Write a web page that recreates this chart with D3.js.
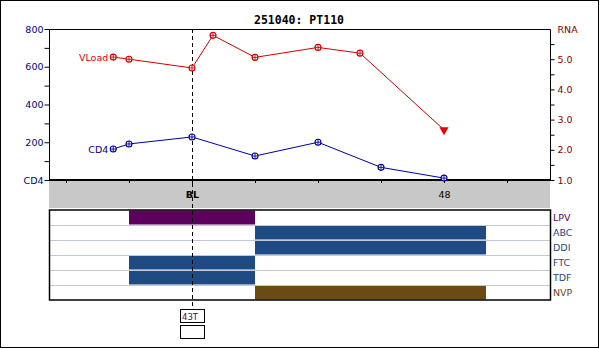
<!DOCTYPE html>
<html>
<head>
<meta charset="utf-8">
<script src="https://cdn.jsdelivr.net/npm/d3@7"></script>
<style>
  body { margin: 0; background: #fff; }
  svg { display: block; font-family: "DejaVu Sans", sans-serif; }
</style>
</head>
<body>
<div id="chart_div"></div>
<script>
// chart values
var title = "251040: PT110";

var vlWeeks = [-15, -12, 0, 4, 12, 24, 32, 48];
var vlValues = [5.07, 5.0, 4.71, 5.79, 5.06, 5.39, 5.2, 2.66];
var vlBelowLimit = [false, false, false, false, false, false, false, true];

var cd4Weeks = [-15, -12, 0, 12, 24, 36, 48];
var cd4Values = [164, 191, 228, 127, 200, 67, 10];

var drugNames = ["LPV", "ABC", "DDI", "FTC", "TDF", "NVP"];
var drugStart = [-12, 12, 12, -12, -12, 12];
var drugEnd = [12, 56, 56, 12, 12, 56];
var drugColors = ["#5e005e", "#1f4b85", "#1f4b85", "#1f4b85", "#1f4b85", "#6b4a14"];
var drugLabelColors = ["#5e005e", "#1f4b85", "#1f4b85", "#1f4b85", "#1f4b85", "#6b4a14"];

var weekTicks = [-24, -12, 0, 12, 24, 36, 48, 60];
var weekLabels = {0: "BL", 48: "48"};

var cd4Ticks = [0, 100, 200, 300, 400, 500, 600, 700, 800];
var cd4Labels = {0: "CD4", 200: "200", 400: "400", 600: "600", 800: "800"};
var rnaTicks = [1, 1.5, 2, 2.5, 3, 3.5, 4, 4.5, 5, 5.5, 6];
var rnaLabels = {1: "1.0", 2: "2.0", 3: "3.0", 4: "4.0", 5: "5.0", 6: "RNA"};

var mutationLabel = "43T";

var width = 600, height = 349;
var marginLeft = 49, marginRight = 50, plotTop = 29, plotBottom = 180;
var bandBottom = 208, panelTop = 210, rowH = 15;

var svg = d3.select("#chart_div").append("svg")
    .attr("width", width)
    .attr("height", height)
    .attr("viewBox", [0, 0, width, height]);

// outer frame
svg.append("rect")
    .attr("x", 0.5).attr("y", 0.5)
    .attr("width", 598).attr("height", 347)
    .attr("fill", "#fff").attr("stroke", "#000");

// scales
var x = d3.scaleLinear()
    .domain([-27.24, 68.19])
    .range([marginLeft, width - marginRight]);

var yCD4 = d3.scaleLinear().domain([0, 800]).range([plotBottom, plotTop]);
var yRNA = d3.scaleLinear().domain([1, 6]).range([plotBottom, plotTop]);

// title
svg.append("text")
    .attr("x", 299).attr("y", 24)
    .attr("text-anchor", "middle")
    .style("font-family", "'DejaVu Sans Mono', monospace")
    .style("font-weight", "bold")
    .style("font-size", "11.5px")
    .text(title);

// gray week band
svg.append("rect")
    .attr("x", marginLeft).attr("y", plotBottom)
    .attr("width", x.range()[1] - marginLeft).attr("height", bandBottom - plotBottom)
    .attr("fill", "#c8c8c8");

// plot frame (top, left, right)
svg.append("path")
    .attr("fill", "none").attr("stroke", "#000")
    .attr("d", `M${marginLeft + 0.5},${plotBottom}V${plotTop + 0.5}H${x.range()[1] + 0.5}V${plotBottom}`);

// left CD4 axis
svg.append("g")
    .attr("transform", `translate(${marginLeft + 0.5},0)`)
    .call(d3.axisLeft(yCD4).tickValues(cd4Ticks).tickSize(5).tickPadding(1)
        .tickFormat(d => cd4Labels[d] || ""))
    .call(g => g.select(".domain").remove())
    .call(g => g.selectAll("text")
        .attr("fill", "#000080")
        .style("font-size", "9.5px")
        .style("font-family", "'DejaVu Sans', sans-serif"));

// right RNA axis
svg.append("g")
    .attr("transform", `translate(${x.range()[1] + 0.5},0)`)
    .call(d3.axisRight(yRNA).tickValues(rnaTicks).tickSize(4).tickPadding(3)
        .tickFormat(d => rnaLabels[d] || ""))
    .call(g => g.select(".domain").remove())
    .call(g => g.selectAll(".tick").filter(d => d === 6).select("line").remove())
    .call(g => g.selectAll("text")
        .attr("fill", "#8b0000")
        .style("font-size", "9.5px")
        .style("font-family", "'DejaVu Sans', sans-serif"));

// bottom week axis
svg.append("g")
    .attr("transform", `translate(0,${plotBottom})`)
    .call(d3.axisBottom(x).tickValues(weekTicks).tickSize(3).tickPadding(8)
        .tickFormat(d => weekLabels[d] || ""))
    .call(g => g.select(".domain").remove())
    .call(g => g.selectAll("text")
        .attr("fill", "#000")
        .style("font-size", "9.5px")
        .style("font-weight", d => d === 0 ? "bold" : null)
        .style("font-family", "'DejaVu Sans', sans-serif"));

svg.append("line")
    .attr("x1", marginLeft).attr("x2", x.range()[1] + 1)
    .attr("y1", plotBottom).attr("y2", plotBottom)
    .attr("stroke", "#000").attr("stroke-width", 2);

// drug panel
var panel = svg.append("g");
drugNames.forEach(function(name, i) {
    var top = panelTop + i * rowH;
    panel.append("rect")
        .attr("x", x(drugStart[i]))
        .attr("y", top + 0.5)
        .attr("width", x(drugEnd[i]) - x(drugStart[i]))
        .attr("height", rowH - 1)
        .attr("fill", drugColors[i]);
    if (i > 0) panel.append("line")
        .attr("x1", marginLeft).attr("x2", x.range()[1])
        .attr("y1", top + 0.5).attr("y2", top + 0.5)
        .attr("stroke", "#c4c8d4");
    panel.append("text")
        .attr("x", x.range()[1] + 3)
        .attr("y", top + rowH / 2 + 3.5)
        .attr("fill", drugLabelColors[i])
        .style("font-size", "9.5px")
        .text(name);
});
panel.append("rect")
    .attr("x", marginLeft + 0.5).attr("y", panelTop)
    .attr("width", x.range()[1] - marginLeft).attr("height", rowH * drugNames.length)
    .attr("fill", "none").attr("stroke", "#000").attr("stroke-width", 1.5);

// baseline dashed line
svg.append("line")
    .attr("x1", x(0) + 0.5).attr("x2", x(0) + 0.5)
    .attr("y1", plotTop).attr("y2", 309.5)
    .attr("stroke", "#000").attr("stroke-dasharray", "4,3");

// mutation boxes
svg.append("rect")
    .attr("x", x(0) - 11.5).attr("y", 309.5)
    .attr("width", 24).attr("height", 13)
    .attr("fill", "#fff").attr("stroke", "#000");
svg.append("text")
    .attr("x", x(0) - 10).attr("y", 319.5)
    .attr("fill", "#5e005e")
    .style("font-size", "8.5px")
    .text(mutationLabel);
svg.append("rect")
    .attr("x", x(0) - 11.5).attr("y", 325.5)
    .attr("width", 24).attr("height", 13)
    .attr("fill", "#fff").attr("stroke", "#000");

// marker helper: small circle with a cross
function markers(g, pts, color) {
    var m = g.selectAll("g.mk").data(pts).join("g")
        .attr("class", "mk")
        .attr("transform", d => `translate(${d[0]},${d[1]})`);
    m.append("circle").attr("r", 3).attr("fill", "#fff").attr("stroke", color).attr("stroke-width", 1.1);
    m.append("path").attr("d", "M-3,0H3M0,-3V3").attr("stroke", color).attr("stroke-width", 0.9);
}

// CD4 series
var cd4Pts = cd4Weeks.map((w, i) => [x(w), yCD4(cd4Values[i])]);
var cd4g = svg.append("g");
cd4g.append("path")
    .attr("fill", "none").attr("stroke", "#000099").attr("stroke-width", 1)
    .attr("d", d3.line()(cd4Pts));
markers(cd4g, cd4Pts, "#000099");
cd4g.append("text")
    .attr("x", cd4Pts[0][0] - 5).attr("y", cd4Pts[0][1] + 3.5)
    .attr("text-anchor", "end")
    .attr("fill", "#000080")
    .style("font-size", "9.5px")
    .text("CD4");

// viral load series
var vlPts = vlWeeks.map((w, i) => [x(w), yRNA(vlValues[i]), vlBelowLimit[i]]);
var vlg = svg.append("g");
vlg.append("path")
    .attr("fill", "none").attr("stroke", "#d40000").attr("stroke-width", 1)
    .attr("d", d3.line()(vlPts.map(d => [d[0], d[1]])));
markers(vlg, vlPts.filter(d => !d[2]), "#d40000");
vlg.selectAll("path.tri").data(vlPts.filter(d => d[2])).join("path")
    .attr("class", "tri")
    .attr("transform", d => `translate(${d[0]},${d[1]}) rotate(180)`)
    .attr("d", d3.symbol(d3.symbolTriangle, 36))
    .attr("fill", "#ee0000");
vlg.append("text")
    .attr("x", vlPts[0][0] - 5).attr("y", vlPts[0][1] + 3.5)
    .attr("text-anchor", "end")
    .attr("fill", "#dd0000")
    .style("font-size", "9.5px")
    .text("VLoad");
</script>
</body>
</html>
